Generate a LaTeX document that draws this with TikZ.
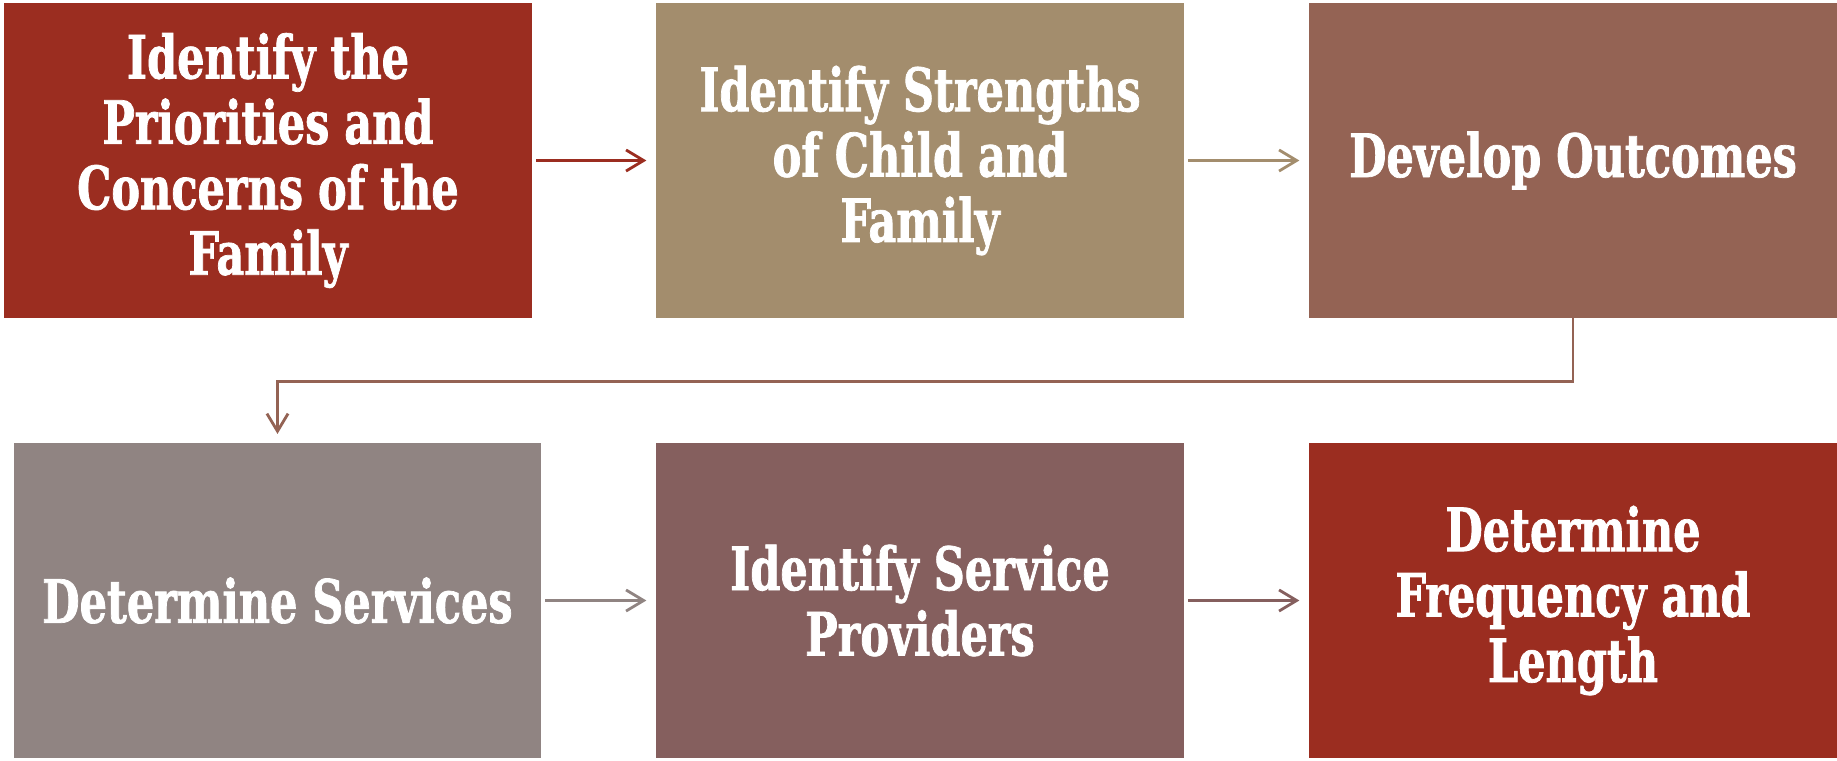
\documentclass[tikz,border=0pt]{standalone}
\usepackage{fontspec}
\usetikzlibrary{arrows.meta}
\newfontfamily\stagefont{DejaVu Serif Condensed Bold}[FakeStretch=0.8, FakeBold=1.2]
\definecolor{rust}{HTML}{9B2D20}
\definecolor{sand}{HTML}{A38D6D}
\definecolor{clay}{HTML}{946354}
\definecolor{ash}{HTML}{908482}
\definecolor{mauve}{HTML}{855F5E}

\begin{document}
\begin{tikzpicture}[x=0.01cm,y=-0.01cm]
\tikzstyle{stage}=[minimum width=5.28cm, minimum height=3.14cm, inner sep=0pt,
  text=white, align=center, font=\stagefont\fontsize{17}{18.6}\selectfont]
\tikzstyle{link}=[line width=0.8pt, -{Straight Barb[length=5pt,width=6pt]},
  shorten <=1pt, shorten >=2.5pt]
\useasboundingbox (0,0) rectangle (1837,760);
\node [stage, fill=rust] (p1) at (268,160.5) {Identify the\\Priorities and\\Concerns of the\\Family};
\node [stage, fill=sand] (p2) at (920,160.5) {Identify Strengths\\of Child and\\Family};
\node [stage, fill=clay] (p3) at (1573,160.5) {Develop Outcomes};
\node [stage, fill=ash, minimum width=5.27cm] (p4) at (277.5,600.5) {Determine Services};
\node [stage, fill=mauve] (p5) at (920,600.5) {Identify Service\\Providers};
\node [stage, fill=rust] (p6) at (1573,600.5) {Determine\\Frequency and\\Length};
\draw [link, rust] (p1) -- (p2);
\draw [link, sand] (p2) -- (p3);
\draw [link, clay, shorten <=0pt] (p3.south) -- ++(0,63) -| (p4.north);
\draw [link, ash] (p4) -- (p5);
\draw [link, mauve] (p5) -- (p6);
\end{tikzpicture}
\end{document}
